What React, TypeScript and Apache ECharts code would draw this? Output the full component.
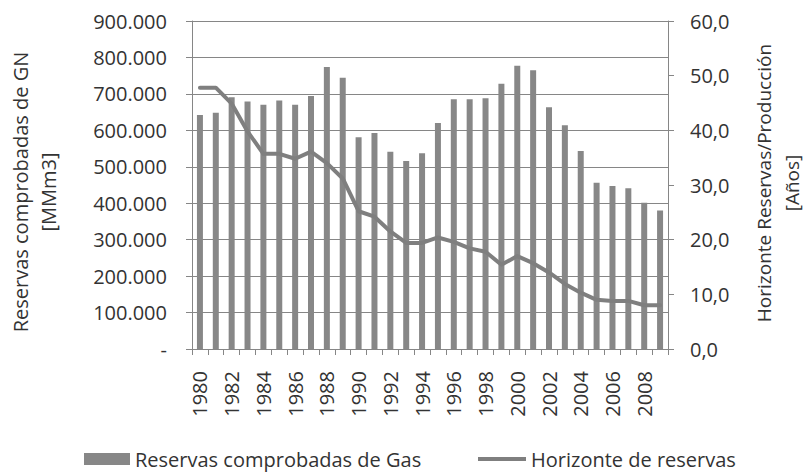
import React, { useEffect, useRef } from "react";
import * as echarts from "echarts";

const years = [
  "1980", "1981", "1982", "1983", "1984", "1985", "1986", "1987", "1988", "1989",
  "1990", "1991", "1992", "1993", "1994", "1995", "1996", "1997", "1998", "1999",
  "2000", "2001", "2002", "2003", "2004", "2005", "2006", "2007", "2008", "2009",
];

const reservasGas = [
  642000, 648000, 691000, 679000, 670000, 682000, 670000, 694000, 774000, 744000,
  581000, 593000, 541000, 516000, 537000, 620000, 685000, 685000, 688000, 728000,
  777000, 765000, 663000, 614000, 543000, 456000, 447000, 441000, 401000, 380000,
];

const horizonteReservas = [
  47.8, 47.8, 44.9, 39.8, 35.7, 35.7, 34.8, 36.1, 34.0, 31.2,
  25.2, 24.2, 21.5, 19.4, 19.4, 20.4, 19.6, 18.4, 17.8, 15.4,
  17.0, 15.7, 14.0, 11.9, 10.3, 9.0, 8.8, 8.8, 8.0, 8.0,
];

const seriesNames = ["Reservas comprobadas de Gas", "Horizonte de reservas"];
const leftTitle = "Reservas comprobadas de GN\n[MMm3]";
const rightTitle = "Horizonte Reservas/Producción\n[Años]";

const FONT = "Open Sans";
const TXT = "#333333";
const AXIS = "#868686";
const BAR = "#878787";
const LINE = "#7f7f7f";

export default function App() {
  const ref = useRef<HTMLDivElement>(null);
  useEffect(() => {
    const chart = echarts.init(ref.current!, null, { renderer: "svg" });
    chart.setOption({
      animation: false,
      backgroundColor: "#ffffff",
      textStyle: { fontFamily: FONT },
      grid: { left: 192, right: 140, top: 21, bottom: 125, containLabel: false },
      legend: [
        {
          left: 79,
          top: 444,
          itemWidth: 46,
          itemHeight: 12,
          textStyle: { fontSize: 20, fontFamily: FONT, color: TXT },
          data: [{ name: seriesNames[0], icon: "rect" }],
        },
        {
          left: 473,
          top: 444,
          itemWidth: 48,
          itemHeight: 4,
          textStyle: { fontSize: 20, fontFamily: FONT, color: TXT },
          data: [{ name: seriesNames[1], icon: "rect", itemStyle: { color: LINE } }],
        },
      ],
      xAxis: {
        type: "category",
        data: years,
        boundaryGap: true,
        axisLine: { lineStyle: { color: AXIS, width: 1 } },
        axisTick: { show: true, interval: 0, length: 6, lineStyle: { color: AXIS } },
        axisLabel: {
          interval: 1,
          rotate: 90,
          margin: 22,
          fontSize: 20,
          fontFamily: FONT,
          color: TXT,
        },
      },
      yAxis: [
        {
          type: "value",
          min: 0,
          max: 900000,
          interval: 100000,
          axisLine: { show: true, lineStyle: { color: AXIS } },
          axisTick: { show: true, length: 6, lineStyle: { color: AXIS } },
          splitLine: { show: true, lineStyle: { color: AXIS, width: 1 } },
          axisLabel: {
            margin: 25,
            fontSize: 20,
            fontFamily: FONT,
            color: TXT,
            formatter: (v: number) => (v === 0 ? "-" : Math.round(v / 1000) + ".000"),
          },
        },
        {
          type: "value",
          position: "right",
          min: 0,
          max: 60,
          interval: 10,
          axisLine: { show: true, lineStyle: { color: AXIS } },
          axisTick: { show: true, length: 6, lineStyle: { color: AXIS } },
          splitLine: { show: false },
          axisLabel: {
            margin: 22,
            fontSize: 20,
            fontFamily: FONT,
            color: TXT,
            formatter: (v: number) => v.toFixed(1).replace(".", ","),
          },
        },
      ],
      series: [
        {
          name: seriesNames[0],
          type: "bar",
          data: reservasGas,
          barWidth: 6,
          itemStyle: { color: BAR },
        },
        {
          name: seriesNames[1],
          type: "line",
          yAxisIndex: 1,
          data: horizonteReservas,
          symbol: "none",
          lineStyle: { color: LINE, width: 4, join: "round", cap: "round" },
          itemStyle: { color: LINE },
        },
      ],
      graphic: [
        {
          type: "text",
          x: 34,
          y: 192,
          rotation: Math.PI / 2,
          style: {
            text: leftTitle,
            fontSize: 20,
            fontFamily: FONT,
            fill: TXT,
            align: "center",
            verticalAlign: "middle",
            lineHeight: 28,
          },
        },
        {
          type: "text",
          x: 778,
          y: 183,
          rotation: Math.PI / 2,
          style: {
            text: rightTitle,
            fontSize: 19,
            fontFamily: FONT,
            fill: TXT,
            align: "center",
            verticalAlign: "middle",
            lineHeight: 28,
          },
        },
      ],
    });
    return () => chart.dispose();
  }, []);
  return (
    <div
      ref={ref}
      style={{ position: "absolute", left: 0, top: 0, width: 808, height: 474, background: "#fff" }}
    />
  );
}
